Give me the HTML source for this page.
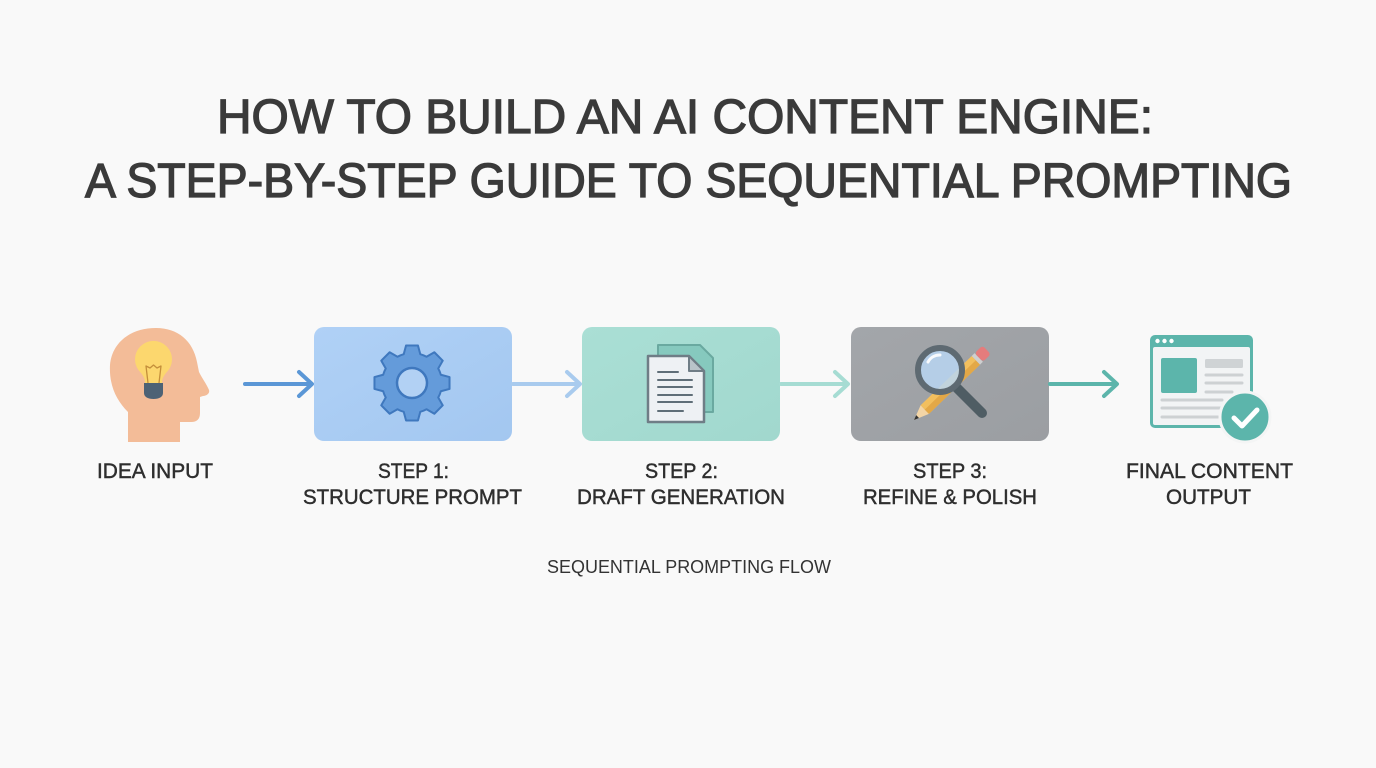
<!DOCTYPE html>
<html>
<head>
<meta charset="utf-8">
<style>
  html,body{margin:0;padding:0;background:#f9f9f9;}
  svg{display:block;}
  .t{font-family:"Liberation Sans",sans-serif;fill:#3a3a3a;stroke:#3a3a3a;stroke-width:1.3;}
  .l{font-family:"Liberation Sans",sans-serif;fill:#2e2e2e;stroke:#2e2e2e;stroke-width:0.45;font-size:21px;}
  .f{font-family:"Liberation Sans",sans-serif;fill:#333;font-size:18px;}
</style>
</head>
<body>
<svg width="1376" height="768" viewBox="0 0 1376 768" xmlns="http://www.w3.org/2000/svg">
  <defs>
    <linearGradient id="g1" x1="0" y1="0" x2="1" y2="1">
      <stop offset="0" stop-color="#b0d1f6"/>
      <stop offset="1" stop-color="#a3c7f0"/>
    </linearGradient>
    <linearGradient id="g2" x1="0" y1="0" x2="1" y2="1">
      <stop offset="0" stop-color="#aadfd5"/>
      <stop offset="1" stop-color="#a1d8ce"/>
    </linearGradient>
    <linearGradient id="g3" x1="0" y1="0" x2="1" y2="1">
      <stop offset="0" stop-color="#a3a6aa"/>
      <stop offset="1" stop-color="#9b9ea2"/>
    </linearGradient>
  </defs>
  <rect width="1376" height="768" fill="#f9f9f9"/>

  <!-- Title -->
  <text class="t" x="217" y="133" font-size="48" textLength="936" lengthAdjust="spacingAndGlyphs">HOW TO BUILD AN AI CONTENT ENGINE:</text>
  <text class="t" x="85" y="197" font-size="48" textLength="1207" lengthAdjust="spacingAndGlyphs">A STEP-BY-STEP GUIDE TO SEQUENTIAL PROMPTING</text>

  <!-- Head icon -->
  <path d="M128,442 L128,412 C116,400 109,385 110,365 C112,342 131,328 156,328 C178,328 193,341 197,362 L199,372 C202,378 207,385 209,390 C210,393 207,396 203,396 L200,397 L200,413 C200,419 197,422 191,422 L180,422 L180,442 Z" fill="#f3bc98"/>
  <path d="M141,373 A18.5,18.5 0 1 1 166,373 C163,377 162,379 162,383 L145,383 C145,379 144,377 141,373 Z" fill="#fcd76e"/>
  <path d="M148,383 L146,366 L150,368 L153.5,365 L157,368 L161,366 L159,383" fill="none" stroke="#c48f3b" stroke-width="1.3" stroke-linejoin="round"/>
  <path d="M144,383 H163 V393 C163,397 159,399 153.5,399 C148,399 144,397 144,393 Z" fill="#4d6275"/>

  <!-- Arrow 1 -->
  <g fill="none" stroke="#5b97d6" stroke-width="4" stroke-linecap="round" stroke-linejoin="round">
    <line x1="245" y1="384" x2="311" y2="384"/>
    <polyline points="299,372 312,384 299,396"/>
  </g>

  <!-- Box 1 -->
  <rect x="314" y="327" width="198" height="114" rx="10" fill="url(#g1)"/>
  <path d="M440.84,374.73 L449.53,377.06 L449.53,388.94 L440.84,391.27 A30,30 0 0 1 438.24,397.54 L442.74,405.34 L434.34,413.74 L426.54,409.24 A30,30 0 0 1 420.27,411.84 L417.94,420.53 L406.06,420.53 L403.73,411.84 A30,30 0 0 1 397.46,409.24 L389.66,413.74 L381.26,405.34 L385.76,397.54 A30,30 0 0 1 383.16,391.27 L374.47,388.94 L374.47,377.06 L383.16,374.73 A30,30 0 0 1 385.76,368.46 L381.26,360.66 L389.66,352.26 L397.46,356.76 A30,30 0 0 1 403.73,354.16 L406.06,345.47 L417.94,345.47 L420.27,354.16 A30,30 0 0 1 426.54,356.76 L434.34,352.26 L442.74,360.66 L438.24,368.46 A30,30 0 0 1 440.84,374.73 Z" fill="#649bda" stroke="#3f78be" stroke-width="2" stroke-linejoin="round"/>
  <circle cx="412" cy="383" r="15" fill="#b2d1f4" stroke="#3f78be" stroke-width="2.5"/>

  <!-- Arrow 2 -->
  <g fill="none" stroke="#a9cbee" stroke-width="4" stroke-linecap="round" stroke-linejoin="round">
    <line x1="513" y1="384" x2="579" y2="384"/>
    <polyline points="567,372 580,384 567,396"/>
  </g>

  <!-- Box 2 -->
  <rect x="582" y="327" width="198" height="114" rx="10" fill="url(#g2)"/>
  <path d="M658,345 H700 L713,358 V412 H658 Z" fill="#86c9be" stroke="#6aa9a0" stroke-width="2" stroke-linejoin="round"/>
  <path d="M648,356 H689 L704,371 V422 H648 Z" fill="#eef1f4" stroke="#6f7d86" stroke-width="2.5" stroke-linejoin="round"/>
  <path d="M689,356 V371 H704 Z" fill="#b9c3c9" stroke="#6f7d86" stroke-width="2" stroke-linejoin="round"/>
  <g stroke="#5f6e78" stroke-width="2" stroke-linecap="round">
    <line x1="658" y1="372" x2="678" y2="372"/>
    <line x1="658" y1="380" x2="692" y2="380"/>
    <line x1="658" y1="387" x2="692" y2="387"/>
    <line x1="658" y1="395" x2="692" y2="395"/>
    <line x1="658" y1="402" x2="692" y2="402"/>
    <line x1="658" y1="411" x2="683" y2="411"/>
  </g>

  <!-- Arrow 3 -->
  <g fill="none" stroke="#a6dcd3" stroke-width="4" stroke-linecap="round" stroke-linejoin="round">
    <line x1="781" y1="384" x2="847" y2="384"/>
    <polyline points="835,372 848,384 835,396"/>
  </g>

  <!-- Box 3 -->
  <rect x="851" y="327" width="198" height="114" rx="10" fill="url(#g3)"/>
  <g transform="translate(914,420) rotate(-44)">
    <polygon points="0,0 15,-6 15,6" fill="#f3d5a6"/>
    <polygon points="0,0 5,-2 5,2" fill="#333"/>
    <rect x="15" y="-6" width="71" height="12" fill="#f2bf5e"/>
    <rect x="15" y="0" width="71" height="6" fill="#e3a847"/>
    <rect x="86" y="-6" width="4" height="12" fill="#cfcfcf"/>
    <rect x="90" y="-6" width="11" height="12" rx="3" fill="#e57c7c"/>
  </g>
  <line x1="957" y1="388" x2="982" y2="413" stroke="#4f5d64" stroke-width="10" stroke-linecap="round"/>
  <circle cx="940" cy="370" r="22" fill="#b8d6f2" fill-opacity="0.85" stroke="#5e6a72" stroke-width="6"/>
  <path d="M928,362 A13,13 0 0 1 940,355" fill="none" stroke="#fff" stroke-width="3" stroke-linecap="round" opacity="0.9"/>

  <!-- Arrow 4 -->
  <g fill="none" stroke="#5cb5ab" stroke-width="4" stroke-linecap="round" stroke-linejoin="round">
    <line x1="1050" y1="384" x2="1116" y2="384"/>
    <polyline points="1104,372 1117,384 1104,396"/>
  </g>

  <!-- Final output icon -->
  <rect x="1150" y="335" width="103" height="93" rx="5" fill="#5cb5ab"/>
  <rect x="1153" y="347" width="97" height="78" rx="2" fill="#f2f4f5"/>
  <circle cx="1157.5" cy="341" r="2.2" fill="#fff"/>
  <circle cx="1164.5" cy="341" r="2.2" fill="#fff"/>
  <circle cx="1171.5" cy="341" r="2.2" fill="#fff"/>
  <rect x="1161" y="358" width="36" height="35" rx="2" fill="#5cb5ab"/>
  <rect x="1205" y="359" width="38" height="9" rx="1.5" fill="#cfd3d5"/>
  <g stroke="#cdd1d3" stroke-width="3" stroke-linecap="round">
    <line x1="1206" y1="375" x2="1242" y2="375"/>
    <line x1="1206" y1="383" x2="1242" y2="383"/>
    <line x1="1206" y1="392" x2="1232" y2="392"/>
    <line x1="1162" y1="400" x2="1222" y2="400"/>
    <line x1="1162" y1="408" x2="1222" y2="408"/>
    <line x1="1162" y1="417" x2="1218" y2="417"/>
  </g>
  <circle cx="1245" cy="417" r="25" fill="#5cb5ab" stroke="#f4f5f5" stroke-width="3"/>
  <polyline points="1234,418 1242,426 1257,410" fill="none" stroke="#fff" stroke-width="5" stroke-linecap="round" stroke-linejoin="round"/>

  <!-- Labels -->
  <text class="l" x="97" y="478" textLength="116" lengthAdjust="spacingAndGlyphs">IDEA INPUT</text>
  <text class="l" x="378" y="478" textLength="71" lengthAdjust="spacingAndGlyphs">STEP 1:</text>
  <text class="l" x="303" y="504" textLength="219" lengthAdjust="spacingAndGlyphs">STRUCTURE PROMPT</text>
  <text class="l" x="645" y="478" textLength="73" lengthAdjust="spacingAndGlyphs">STEP 2:</text>
  <text class="l" x="577" y="504" textLength="208" lengthAdjust="spacingAndGlyphs">DRAFT GENERATION</text>
  <text class="l" x="913" y="478" textLength="74" lengthAdjust="spacingAndGlyphs">STEP 3:</text>
  <text class="l" x="863" y="504" textLength="174" lengthAdjust="spacingAndGlyphs">REFINE &amp; POLISH</text>
  <text class="l" x="1126" y="478" textLength="167" lengthAdjust="spacingAndGlyphs">FINAL CONTENT</text>
  <text class="l" x="1166" y="504" textLength="85" lengthAdjust="spacingAndGlyphs">OUTPUT</text>

  <text class="f" x="547" y="573" textLength="284" lengthAdjust="spacingAndGlyphs">SEQUENTIAL PROMPTING FLOW</text>
</svg>
</body>
</html>
